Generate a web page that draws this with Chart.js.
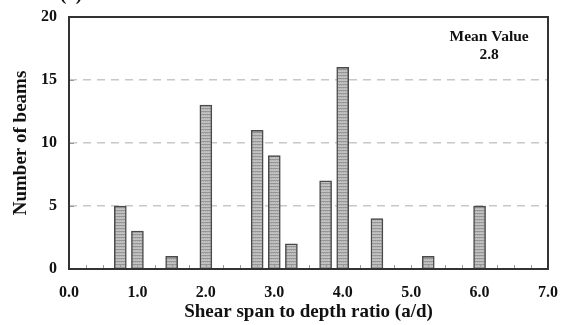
<!DOCTYPE html>
<html>
<head>
<meta charset="utf-8">
<script src="https://cdn.jsdelivr.net/npm/chart.js@4"></script>
<style>
    html, body { margin: 0; padding: 0; background: #fff; }
    #wrap { width: 566px; height: 325px; position: relative; }
</style>
</head>
<body>
<div id="wrap"><canvas id="chart"></canvas></div>
<script>
// Shear span to depth ratio (a/d) and number of beams
const ratios = [0.75, 1.0, 1.5, 2.0, 2.75, 3.0, 3.25, 3.75, 4.0, 4.5, 5.25, 6.0];
const counts = [5, 3, 1, 13, 11, 9, 2, 7, 16, 4, 1, 5];
const meanLabel = ['Mean Value', '2.8'];
const panelLabel = '(a)';

const FONT = '"Liberation Serif", "DejaVu Serif", serif';

// Hatched gray fill for the bars
function makePattern() {
    const c = document.createElement('canvas');
    c.width = 2;
    c.height = 3;
    const g = c.getContext('2d');
    g.fillStyle = '#c2c2c2';
    g.fillRect(0, 0, 2, 3);
    g.fillStyle = '#969696';
    g.fillRect(0, 0, 2, 1);
    g.fillStyle = '#b0b0b0';
    g.fillRect(1, 1, 1, 1);
    return g.createPattern(c, 'repeat');
}

// Frame, inner ticks and text notes
const extras = {
    id: 'extras',
    afterDraw(chart) {
        const { ctx, chartArea: a, scales } = chart;
        ctx.save();

        // minor ticks along the bottom, every 0.25
        ctx.strokeStyle = '#999';
        ctx.lineWidth = 1;
        for (let v = 0.25; v < 7; v += 0.25) {
            const px = Math.round(scales.x.getPixelForValue(v)) + 0.5;
            ctx.beginPath();
            ctx.moveTo(px, a.bottom);
            ctx.lineTo(px, a.bottom - 4);
            ctx.stroke();
        }
        // y ticks inside
        [5, 10, 15].forEach(v => {
            const py = Math.round(scales.y.getPixelForValue(v)) + 0.5;
            ctx.beginPath();
            ctx.moveTo(a.left, py);
            ctx.lineTo(a.left + 5, py);
            ctx.stroke();
        });

        // frame
        ctx.strokeStyle = '#333';
        ctx.lineWidth = 2;
        ctx.strokeRect(a.left, a.top, a.right - a.left, a.bottom - a.top);

        // mean value note
        ctx.fillStyle = '#111';
        ctx.font = 'bold 15.5px ' + FONT;
        ctx.textAlign = 'center';
        ctx.textBaseline = 'middle';
        const mx = scales.x.getPixelForValue(6.14);
        ctx.fillText(meanLabel[0], mx, 37);
        ctx.fillText(meanLabel[1], mx, 55);

        // panel label, cut off at the top edge
        ctx.font = 'bold 19px ' + FONT;
        ctx.textAlign = 'left';
        ctx.textBaseline = 'alphabetic';
        ctx.fillText(panelLabel, 60, 0);

        ctx.restore();
    }
};

const ctx = document.getElementById('chart').getContext('2d');

new Chart(ctx, {
    type: 'bar',
    data: {
        datasets: [{
            data: ratios.map((r, i) => ({ x: r, y: counts[i] })),
            backgroundColor: makePattern(),
            borderColor: '#4a4a4a',
            borderWidth: 1.5,
            borderSkipped: 'bottom',
            barThickness: 12
        }]
    },
    options: {
        responsive: true,
        maintainAspectRatio: false,
        animation: false,
        layout: {
            padding: { top: 17, right: 18, left: 0, bottom: 0 }
        },
        plugins: {
            legend: { display: false },
            tooltip: { enabled: false }
        },
        scales: {
            x: {
                type: 'linear',
                min: 0,
                max: 7,
                offset: false,
                afterFit: s => {
                    s.height = 56;
                    s.paddingLeft = 0;
                    s.paddingRight = 0;
                },
                grid: { display: false, drawTicks: false },
                border: { display: false },
                ticks: {
                    stepSize: 1,
                    padding: 14,
                    color: '#111',
                    font: { family: FONT, size: 16, weight: 'bold' },
                    callback: v => v.toFixed(1)
                },
                title: {
                    display: true,
                    text: 'Shear span to depth ratio (a/d)',
                    color: '#111',
                    font: { family: FONT, size: 19, weight: 'bold' },
                    padding: { top: 0, bottom: 2 }
                }
            },
            y: {
                min: 0,
                max: 20,
                afterFit: s => {
                    s.width = 69;
                    s.paddingTop = 0;
                    s.paddingBottom = 0;
                },
                grid: {
                    drawTicks: false,
                    color: ctx => (ctx.tick && (ctx.tick.value === 0 || ctx.tick.value === 20)) ? 'rgba(0,0,0,0)' : '#c8c8c8',
                    lineWidth: 1.5
                },
                border: { display: false, dash: [8, 6] },
                ticks: {
                    stepSize: 5,
                    padding: 12,
                    color: '#111',
                    font: { family: FONT, size: 16, weight: 'bold' }
                },
                title: {
                    display: true,
                    text: 'Number of beams',
                    color: '#111',
                    font: { family: FONT, size: 19, weight: 'bold' },
                    padding: { top: 10, bottom: 0 }
                }
            }
        }
    },
    plugins: [extras]
});
</script>
</body>
</html>
